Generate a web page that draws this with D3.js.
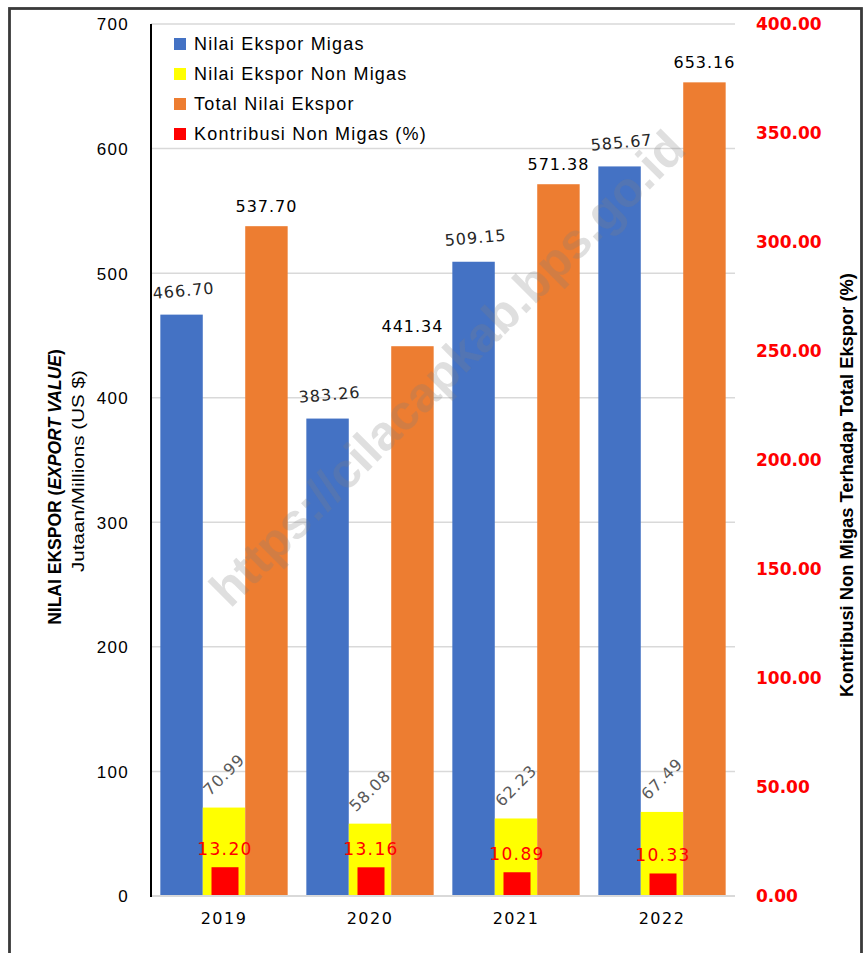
<!DOCTYPE html>
<html><head><meta charset="utf-8">
<script src="https://cdn.jsdelivr.net/npm/d3@7"></script>
<style>body{margin:0;background:#fff}svg{display:block}</style>
</head><body>
<svg id="c" width="864" height="953"></svg>
<script>
const years = ["2019","2020","2021","2022"];
const migas = [466.70, 383.26, 509.15, 585.67];
const nonMigas = [70.99, 58.08, 62.23, 67.49];
const total = [537.70, 441.34, 571.38, 653.16];
const kontribusi = [13.20, 13.16, 10.89, 10.33];
const leftTicks = [0,100,200,300,400,500,600,700];
const rightTicks = [0,50,100,150,200,250,300,350,400];
const seriesNames = ["Nilai Ekspor Migas","Nilai Ekspor Non Migas","Total Nilai Ekspor","Kontribusi Non Migas (%)"];
const colors = ["#4472C4","#FFFF00","#ED7D31","#FF0000"];

const svg = d3.select("#c");
const L=151, R=735, T=24, B=896;
const x = d3.scaleBand().domain(years).range([L,R]).paddingInner(0).paddingOuter(0);
const inner = d3.scaleBand().domain([0,1,2]).range([0,x.bandwidth()]).paddingInner(0).paddingOuter(0.22);
const y = d3.scaleLinear().domain([0,700]).range([B,T]);
const y2 = d3.scaleLinear().domain([0,400]).range([B,T]);

// frame
svg.append("rect").attr("x",9.5).attr("y",8.5).attr("width",852).attr("height",960)
  .attr("fill","none").attr("stroke","#3a3a3a").attr("stroke-width",2.8);

// gridlines
svg.append("g").selectAll("line").data(leftTicks).join("line")
  .attr("x1",L).attr("x2",R).attr("y1",d=>y(d)).attr("y2",d=>y(d))
  .attr("stroke","#d9d9d9").attr("stroke-width",1.5);

// left axis labels
const yAxis = d3.axisLeft(y).tickValues(leftTicks).tickSize(0).tickPadding(0);
const gy = svg.append("g").attr("transform",`translate(${L-22},0)`).call(yAxis);
gy.select(".domain").remove();
gy.selectAll("text").attr("font-family","'Liberation Sans',Arial,sans-serif").attr("font-size",17)
  .attr("letter-spacing","1.3px").attr("fill","#000").attr("dy","0.35em");

// right axis labels
const yAxis2 = d3.axisRight(y2).tickValues(rightTicks).tickSize(0).tickPadding(0).tickFormat(d3.format(".2f"));
const gy2 = svg.append("g").attr("transform",`translate(756,0)`).call(yAxis2);
gy2.select(".domain").remove();
gy2.selectAll("text").attr("font-family","'DejaVu Sans',sans-serif").attr("font-weight","bold")
  .attr("font-size",17).attr("fill","#FF0000").attr("dy","0.35em");

// x axis labels
const xAxis = d3.axisBottom(x).tickSize(0).tickPadding(0);
const gx = svg.append("g").attr("transform",`translate(0,${B+22})`).call(xAxis);
gx.select(".domain").remove();
gx.selectAll("text").attr("font-family","'DejaVu Sans',sans-serif").attr("font-size",16)
  .attr("letter-spacing","1.5px").attr("fill","#000").attr("dy","0.35em");

// bars
const groups = [migas, nonMigas, total];
groups.forEach((vals,si)=>{
  svg.append("g").selectAll("rect").data(vals).join("rect")
    .attr("x",(d,i)=>x(years[i])+inner(si)).attr("width",inner.bandwidth())
    .attr("y",d=>y(d)).attr("height",d=>B-y(d)).attr("fill",colors[si]);
});
const redW = x.bandwidth()*0.185;
svg.append("g").selectAll("rect").data(kontribusi).join("rect")
  .attr("x",(d,i)=>x(years[i])+x.bandwidth()/2-redW/2+1).attr("width",redW)
  .attr("y",d=>y2(d)).attr("height",d=>B-y2(d)).attr("fill",colors[3]);

// baseline
svg.append("line").attr("x1",L).attr("x2",R).attr("y1",B).attr("y2",B).attr("stroke","#d9d9d9").attr("stroke-width",2);
// left axis line
svg.append("line").attr("x1",L).attr("x2",L).attr("y1",T).attr("y2",B+1).attr("stroke","#000").attr("stroke-width",2);

const f2 = d3.format(".2f");
const lblFont = "'DejaVu Sans',sans-serif";
// migas labels (slightly rotated)
svg.append("g").selectAll("text").data(migas).join("text")
  .attr("transform",(d,i)=>`translate(${x(years[i])+inner(0)+inner.bandwidth()/2+2},${y(d)-24}) rotate(-5)`)
  .attr("text-anchor","middle").attr("dy","0.35em").attr("font-family",lblFont).attr("font-size",16)
  .attr("letter-spacing","1px").attr("fill","#262626").text(f2);
// total labels
svg.append("g").selectAll("text").data(total).join("text")
  .attr("transform",(d,i)=>`translate(${x(years[i])+inner(2)+inner.bandwidth()/2},${y(d)-20})`)
  .attr("text-anchor","middle").attr("dy","0.35em").attr("font-family",lblFont).attr("font-size",16)
  .attr("letter-spacing","1px").attr("fill","#000").text(f2);
// non migas labels rotated -45
svg.append("g").selectAll("text").data(nonMigas).join("text")
  .attr("transform",(d,i)=>`translate(${x(years[i])+inner(1)+inner.bandwidth()/2},${y(d)-33}) rotate(-45)`)
  .attr("text-anchor","middle").attr("dy","0.35em").attr("font-family",lblFont).attr("font-size",16)
  .attr("letter-spacing","1px").attr("fill","#595959").text(f2);
// kontribusi labels
svg.append("g").selectAll("text").data(kontribusi).join("text")
  .attr("transform",(d,i)=>`translate(${x(years[i])+x.bandwidth()/2+1},${y2(d)-18})`)
  .attr("text-anchor","middle").attr("dy","0.35em").attr("font-family",lblFont).attr("font-size",17)
  .attr("letter-spacing","1.4px").attr("fill","#FF0000").text(f2);

// legend
const lg = svg.append("g");
seriesNames.forEach((n,i)=>{
  const cy = 44 + i*30;
  lg.append("rect").attr("x",174).attr("y",cy-6).attr("width",12).attr("height",12).attr("fill",colors[i]);
  lg.append("text").attr("x",194).attr("y",cy).attr("dy","0.35em")
    .attr("font-family","'Liberation Sans',Arial,sans-serif").attr("font-size",18).attr("letter-spacing","1.2px")
    .attr("fill","#000").text(n);
});

// fit helper
function fit(sel, target){
  const len = sel.node().getComputedTextLength();
  return target/len;
}
// left title
const t1 = svg.append("text").attr("text-anchor","middle").attr("dy","0.35em")
  .attr("font-family","'Liberation Sans',Arial,sans-serif").attr("font-size",18).attr("font-weight","bold").attr("fill","#000");
t1.append("tspan").text("NILAI EKSPOR (");
t1.append("tspan").attr("font-style","italic").text("EXPORT VALUE");
t1.append("tspan").text(")");
const s1 = fit(t1, 276);
t1.attr("transform",`translate(55,487) rotate(-90) scale(${s1},1)`);
const t2 = svg.append("text").attr("text-anchor","middle").attr("dy","0.35em")
  .attr("font-family","'Liberation Sans',Arial,sans-serif").attr("font-size",17).attr("fill","#000")
  .text("Jutaan/Millions (US $)");
const s2 = fit(t2, 202);
t2.attr("transform",`translate(78,471) rotate(-90) scale(${s2},1)`);
// right title
const t3 = svg.append("text").attr("text-anchor","middle").attr("dy","0.35em")
  .attr("font-family","'Liberation Sans',Arial,sans-serif").attr("font-size",18).attr("font-weight","bold").attr("fill","#000")
  .text("Kontribusi Non Migas Terhadap Total Ekspor (%)");
const s3 = fit(t3, 424);
t3.attr("transform",`translate(847,485) rotate(-90) scale(${s3},1)`);

// watermark
const wm = svg.append("text").attr("text-anchor","middle").attr("dy","0.35em")
  .attr("font-family","'Liberation Sans',Arial,sans-serif").attr("font-weight","bold").attr("font-size",48)
  .attr("fill","#808080").attr("fill-opacity",0.25).text("https://cilacapkab.bps.go.id");
const sw = fit(wm, 648);
wm.attr("font-size",48*sw).attr("transform","translate(447,368) rotate(-45)");
</script>
</body></html>
